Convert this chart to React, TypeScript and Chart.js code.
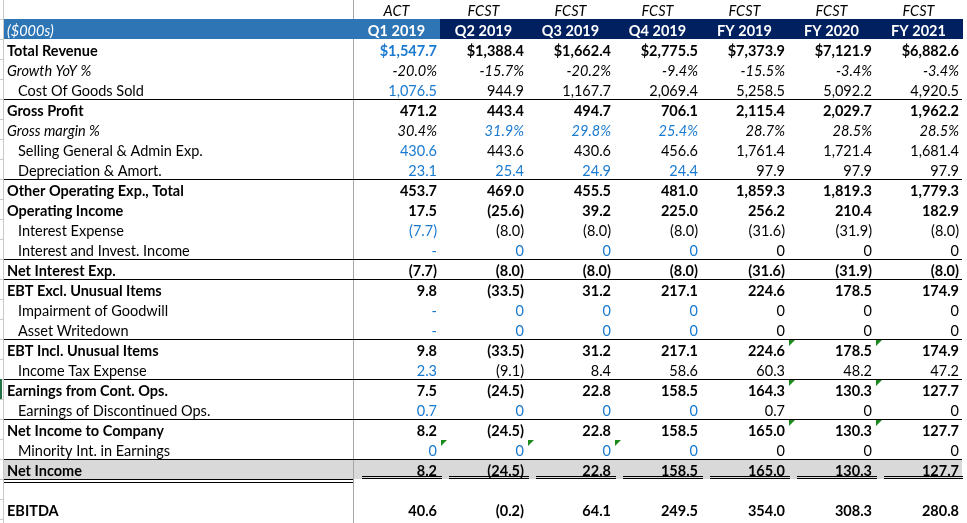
import React, { useEffect, useRef } from 'react';
import { Chart, registerables } from 'chart.js';

Chart.register(...registerables);

// ---------- data ----------
const periods = ['Q1 2019', 'Q2 2019', 'Q3 2019', 'Q4 2019', 'FY 2019', 'FY 2020', 'FY 2021'];
const periodTypes = ['ACT', 'FCST', 'FCST', 'FCST', 'FCST', 'FCST', 'FCST'];
const unitsLabel = '($000s)';

const totalRevenue = [1547.7, 1388.4, 1662.4, 2775.5, 7373.9, 7121.9, 6882.6];
const growthYoY = [-20.0, -15.7, -20.2, -9.4, -15.5, -3.4, -3.4];
const costOfGoodsSold = [1076.5, 944.9, 1167.7, 2069.4, 5258.5, 5092.2, 4920.5];
const grossProfit = [471.2, 443.4, 494.7, 706.1, 2115.4, 2029.7, 1962.2];
const grossMargin = [30.4, 31.9, 29.8, 25.4, 28.7, 28.5, 28.5];
const sgaExpense = [430.6, 443.6, 430.6, 456.6, 1761.4, 1721.4, 1681.4];
const deprAmort = [23.1, 25.4, 24.9, 24.4, 97.9, 97.9, 97.9];
const otherOpExpTotal = [453.7, 469.0, 455.5, 481.0, 1859.3, 1819.3, 1779.3];
const operatingIncome = [17.5, -25.6, 39.2, 225.0, 256.2, 210.4, 182.9];
const interestExpense = [-7.7, -8.0, -8.0, -8.0, -31.6, -31.9, -8.0];
const interestInvestIncome = [null, 0, 0, 0, 0, 0, 0];
const netInterestExp = [-7.7, -8.0, -8.0, -8.0, -31.6, -31.9, -8.0];
const ebtExclUnusual = [9.8, -33.5, 31.2, 217.1, 224.6, 178.5, 174.9];
const impairmentGoodwill = [null, 0, 0, 0, 0, 0, 0];
const assetWritedown = [null, 0, 0, 0, 0, 0, 0];
const ebtInclUnusual = [9.8, -33.5, 31.2, 217.1, 224.6, 178.5, 174.9];
const incomeTaxExpense = [2.3, -9.1, 8.4, 58.6, 60.3, 48.2, 47.2];
const earningsContOps = [7.5, -24.5, 22.8, 158.5, 164.3, 130.3, 127.7];
const earningsDiscOps = [0.7, 0, 0, 0, 0.7, 0, 0];
const netIncomeToCompany = [8.2, -24.5, 22.8, 158.5, 165.0, 130.3, 127.7];
const minorityInterest = [0, 0, 0, 0, 0, 0, 0];
const netIncome = [8.2, -24.5, 22.8, 158.5, 165.0, 130.3, 127.7];
const ebitda = [40.6, -0.2, 64.1, 249.5, 354.0, 308.3, 280.8];

type Kind = 'bold' | 'italic' | 'indent' | 'blank';
type Fmt = 'dollar' | 'pct' | 'num';
interface RowSpec {
  label: string;
  values: (number | null)[];
  kind: Kind;
  fmt: Fmt;
  blue: number[];
}

const rows: RowSpec[] = [
  { label: 'Total Revenue', values: totalRevenue, kind: 'bold', fmt: 'dollar', blue: [0] },
  { label: 'Growth YoY %', values: growthYoY, kind: 'italic', fmt: 'pct', blue: [] },
  { label: 'Cost Of Goods Sold', values: costOfGoodsSold, kind: 'indent', fmt: 'num', blue: [0] },
  { label: 'Gross Profit', values: grossProfit, kind: 'bold', fmt: 'num', blue: [] },
  { label: 'Gross margin %', values: grossMargin, kind: 'italic', fmt: 'pct', blue: [1, 2, 3] },
  { label: 'Selling General & Admin Exp.', values: sgaExpense, kind: 'indent', fmt: 'num', blue: [0] },
  { label: 'Depreciation & Amort.', values: deprAmort, kind: 'indent', fmt: 'num', blue: [0, 1, 2, 3] },
  { label: 'Other Operating Exp., Total', values: otherOpExpTotal, kind: 'bold', fmt: 'num', blue: [] },
  { label: 'Operating Income', values: operatingIncome, kind: 'bold', fmt: 'num', blue: [] },
  { label: 'Interest Expense', values: interestExpense, kind: 'indent', fmt: 'num', blue: [0] },
  { label: 'Interest and Invest. Income', values: interestInvestIncome, kind: 'indent', fmt: 'num', blue: [0, 1, 2, 3] },
  { label: 'Net Interest Exp.', values: netInterestExp, kind: 'bold', fmt: 'num', blue: [] },
  { label: 'EBT Excl. Unusual Items', values: ebtExclUnusual, kind: 'bold', fmt: 'num', blue: [] },
  { label: 'Impairment of Goodwill', values: impairmentGoodwill, kind: 'indent', fmt: 'num', blue: [0, 1, 2, 3] },
  { label: 'Asset Writedown', values: assetWritedown, kind: 'indent', fmt: 'num', blue: [0, 1, 2, 3] },
  { label: 'EBT Incl. Unusual Items', values: ebtInclUnusual, kind: 'bold', fmt: 'num', blue: [] },
  { label: 'Income Tax Expense', values: incomeTaxExpense, kind: 'indent', fmt: 'num', blue: [0] },
  { label: 'Earnings from Cont. Ops.', values: earningsContOps, kind: 'bold', fmt: 'num', blue: [] },
  { label: 'Earnings of Discontinued Ops.', values: earningsDiscOps, kind: 'indent', fmt: 'num', blue: [0, 1, 2, 3] },
  { label: 'Net Income to Company', values: netIncomeToCompany, kind: 'bold', fmt: 'num', blue: [] },
  { label: 'Minority Int. in Earnings', values: minorityInterest, kind: 'indent', fmt: 'num', blue: [0, 1, 2, 3] },
  { label: 'Net Income', values: netIncome, kind: 'bold', fmt: 'num', blue: [] },
  { label: '', values: [], kind: 'blank', fmt: 'num', blue: [] },
  { label: 'EBITDA', values: ebitda, kind: 'bold', fmt: 'num', blue: [] },
];

const rowLabels = rows.map((r) => r.label);
// rows with a thin bottom border
const borderBelowRows = [2, 6, 10, 11, 14, 16, 18, 20];
const shadedRow = 21;
const selectedRow = 17;
// cells showing Excel's green indicator triangle [row, column]
const flaggedCells = [[20, 1], [20, 2], [20, 3], [15, 5], [15, 6], [17, 5], [17, 6], [19, 5], [19, 6]];

// ---------- style ----------
const FAMILY = 'Lato';
const SIZE = 14.5;
const BLUE = '#1a7ad0';
const HEADER_LIGHT = '#2e75b6';
const HEADER_DARK = '#002060';
const TOP_OFF = 12; // row top = centre - TOP_OFF
const BOT_OFF = 8; // row bottom border = centre + BOT_OFF

function fontFor(kind: Kind) {
  return {
    family: FAMILY,
    size: SIZE,
    weight: kind === 'bold' ? 'bold' : 'normal',
    style: kind === 'italic' ? 'italic' : 'normal',
  } as any;
}
function cssFont(kind: Kind) {
  const f = fontFor(kind);
  return `${f.style} ${f.weight} ${f.size}px ${f.family}`;
}

function formatValue(v: number | null, fmt: Fmt) {
  if (v === null) return '-';
  if (v === 0) return '0';
  const s = Math.abs(v).toLocaleString('en-US', { minimumFractionDigits: 1, maximumFractionDigits: 1 });
  if (fmt === 'pct') return (v < 0 ? '-' : '') + s + '%';
  const body = fmt === 'dollar' ? '$' + s : s;
  return v < 0 ? '(' + body + ')' : body;
}

const tablePlugin = {
  id: 'financialTable',
  beforeDraw(chart: any) {
    const { ctx } = chart;
    const xs = chart.scales.x;
    const ys = chart.scales.y;
    const colW = xs.getPixelForValue(1) - xs.getPixelForValue(0);
    const rowH = ys.getPixelForValue(1) - ys.getPixelForValue(0);
    const center = (r: number) => Math.round(ys.getPixelForValue(0) + r * rowH);
    const left = ys.left - 3;
    const right = xs.right;
    const H = chart.height;
    ctx.save();
    // Excel gutter
    ctx.fillStyle = '#c8c8c8';
    ctx.fillRect(left - 1, 0, 1, H);
    for (let r = -1; r <= rows.length; r++) {
      ctx.fillRect(0, center(r) - TOP_OFF, 3, 1);
    }
    ctx.fillStyle = '#217346';
    ctx.fillRect(0, center(selectedRow) - TOP_OFF, 2, rowH);
    // shaded Net Income row
    ctx.fillStyle = '#d9d9d9';
    ctx.fillRect(left, center(shadedRow) - TOP_OFF, right - left, rowH);
    // vertical separator
    ctx.fillStyle = '#a6a6a6';
    ctx.fillRect(xs.left, 0, 1, H);
    // header band
    const hTop = center(-1) - TOP_OFF;
    const splitX = Math.round(xs.getPixelForValue(0) + colW / 2);
    ctx.fillStyle = HEADER_LIGHT;
    ctx.fillRect(left, hTop, splitX - left, rowH);
    ctx.fillStyle = HEADER_DARK;
    ctx.fillRect(splitX, hTop, right - splitX + 1, rowH);
    // borders
    ctx.fillStyle = '#000';
    borderBelowRows.forEach((r) => ctx.fillRect(left, center(r) + BOT_OFF, right - left, 1));
    // double border under Net Income (label column)
    const nb = center(shadedRow) + BOT_OFF;
    ctx.fillRect(left, nb, xs.left - left, 1);
    ctx.fillRect(left, nb + 3, xs.left - left, 1);
    // accounting double underline for Net Income values
    for (let c = 0; c < periods.length; c++) {
      const cl = xs.getPixelForValue(c) - colW / 2;
      const x0 = Math.round(cl + 9);
      const x1 = Math.min(Math.round(cl + colW + 2), right + 1);
      ctx.fillRect(x0, nb - 3, x1 - x0, 1);
      ctx.fillRect(x0, nb - 1, x1 - x0, 1);
    }
    ctx.restore();
  },
  afterDatasetsDraw(chart: any) {
    const { ctx } = chart;
    const xs = chart.scales.x;
    const ys = chart.scales.y;
    const colW = xs.getPixelForValue(1) - xs.getPixelForValue(0);
    const rowH = ys.getPixelForValue(1) - ys.getPixelForValue(0);
    const y0 = ys.getPixelForValue(0);
    ctx.save();
    ctx.textBaseline = 'middle';
    // header rows
    ctx.textAlign = 'center';
    periods.forEach((p, c) => {
      const x = xs.getPixelForValue(c);
      ctx.font = cssFont('italic');
      ctx.fillStyle = '#000';
      ctx.fillText(periodTypes[c], x, y0 - 2 * rowH);
      ctx.font = cssFont('bold');
      ctx.fillStyle = '#fff';
      ctx.fillText(p, x, y0 - rowH);
    });
    ctx.textAlign = 'left';
    ctx.font = cssFont('italic');
    ctx.fillStyle = '#fff';
    ctx.fillText(unitsLabel, ys.left, y0 - rowH);
    // cells
    ctx.textAlign = 'right';
    rows.forEach((row, r) => {
      const meta = chart.getDatasetMeta(r);
      meta.data.forEach((el: any, c: number) => {
        ctx.font = cssFont(row.kind);
        ctx.fillStyle = row.blue.includes(c) ? BLUE : '#000';
        ctx.fillText(formatValue(row.values[c], row.fmt), el.x + colW / 2 - 3, el.y);
      });
    });
    // indicator triangles
    ctx.fillStyle = '#1a8a1a';
    flaggedCells.forEach(([r, c]) => {
      const x = Math.round(xs.getPixelForValue(c) - colW / 2) + 1;
      const y = Math.round(ys.getPixelForValue(r)) - TOP_OFF + 1;
      ctx.beginPath();
      ctx.moveTo(x, y);
      ctx.lineTo(x + 6, y);
      ctx.lineTo(x, y + 6);
      ctx.closePath();
      ctx.fill();
    });
    ctx.restore();
  },
};

export default function App() {
  const ref = useRef<HTMLCanvasElement>(null);
  useEffect(() => {
    document.body.style.margin = '0';
    const canvas = ref.current!;
    const chart = new Chart(canvas, {
      type: 'scatter',
      data: {
        labels: periods,
        datasets: rows.map((row) => ({
          label: row.label || 'blank',
          data: row.values.map((_, c) => ({ x: periods[c], y: row.label })),
          pointRadius: 0,
          pointHoverRadius: 0,
          showLine: false,
        })),
      } as any,
      options: {
        responsive: false,
        animation: false,
        events: [],
        layout: { padding: { top: 41, bottom: 2, left: 7, right: 5 } },
        plugins: { legend: { display: false }, tooltip: { enabled: false }, title: { display: false } },
        scales: {
          x: { type: 'category', display: false, offset: true, grid: { display: false } },
          y: {
            type: 'category',
            labels: rowLabels,
            offset: true,
            position: 'left',
            grid: { display: false },
            border: { display: false },
            afterFit: (s: any) => {
              s.width = 346;
              s.paddingTop = 0;
              s.paddingBottom = 0;
            },
            ticks: {
              autoSkip: false,
              crossAlign: 'far',
              padding: 0,
              color: '#000',
              font: (c: any) => fontFor(rows[c.index] ? rows[c.index].kind : 'indent'),
              callback: (_v: any, i: number) => (rows[i].kind === 'indent' ? '\u2002 ' + rows[i].label : rows[i].label),
            },
          },
        },
      } as any,
      plugins: [tablePlugin],
    });
    return () => chart.destroy();
  }, []);
  return (
    <div style={{ position: 'absolute', left: 0, top: 0, width: 967, height: 523, background: '#fff' }}>
      <canvas ref={ref} width={967} height={523} style={{ display: 'block', width: 967, height: 523 }} />
    </div>
  );
}
